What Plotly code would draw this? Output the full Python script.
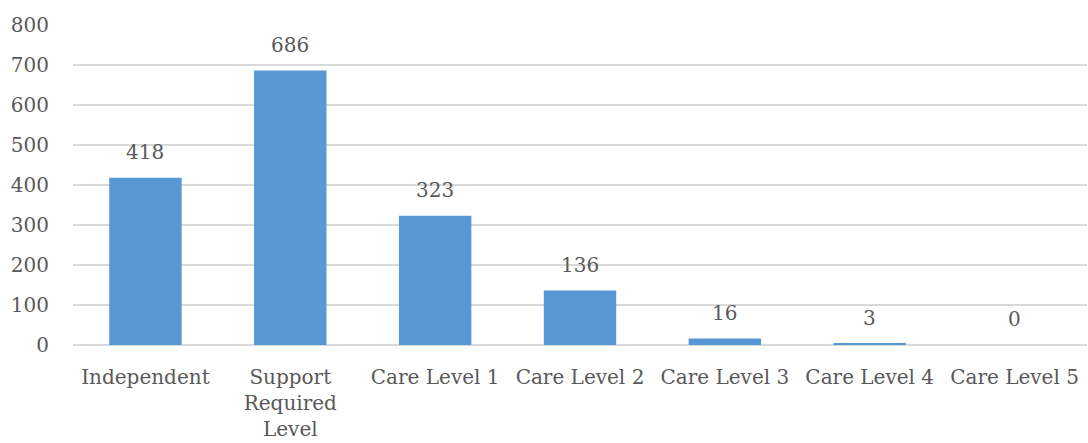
import plotly.graph_objects as go

categories = ["Independent", "Support<br>Required<br>Level", "Care Level 1", "Care Level 2",
              "Care Level 3", "Care Level 4", "Care Level 5"]
values = [418, 686, 323, 136, 16, 3, 0]
y_ticks = [0, 100, 200, 300, 400, 500, 600, 700, 800]

FONT = "DejaVu Serif"
TXT = "#595959"
FS = 20

fig = go.Figure()
fig.add_trace(go.Bar(
    x=categories, y=values,
    marker=dict(color="#5798D4", line=dict(width=0)),
    width=0.5,
))
for c, v in zip(categories, values):
    fig.add_annotation(x=c, y=v, text=str(v), showarrow=False, yanchor="bottom",
                       yshift=12, font=dict(family=FONT, size=FS, color=TXT))

fig.update_layout(
    width=1088, height=443,
    margin=dict(l=73, r=1, t=25, b=98),
    plot_bgcolor="white", paper_bgcolor="white",
    showlegend=False,
    font=dict(family=FONT, size=FS, color=TXT),
    xaxis=dict(showgrid=False, showline=False, ticks="", ticklabelstandoff=18,
               tickfont=dict(family=FONT, size=FS, color=TXT)),
    yaxis=dict(range=[0, 800], tickvals=y_ticks, showgrid=True, gridcolor="#D9D9D9",
               gridwidth=1.5, zeroline=True, zerolinecolor="#D9D9D9", zerolinewidth=1.5,
               showline=False, ticks="", ticklabelstandoff=23,
               tickfont=dict(family=FONT, size=FS, color=TXT)),
)
fig.write_html("out.html")
